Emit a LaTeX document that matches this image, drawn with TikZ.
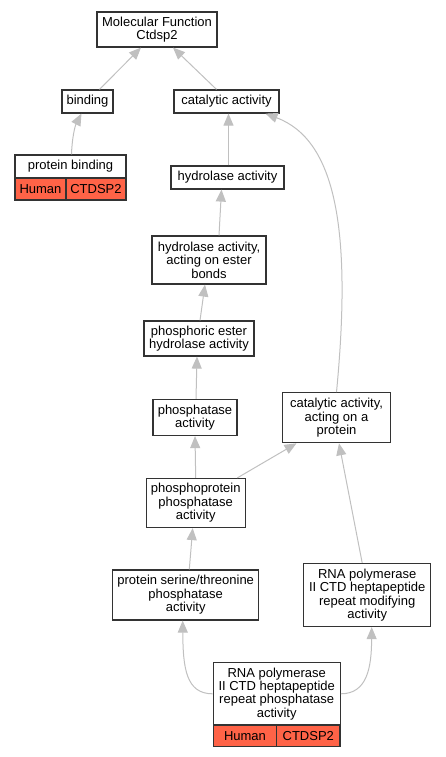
\documentclass[tikz,border=0pt]{standalone}
\usepackage{fontspec}
\setmainfont{Liberation Sans}
\usetikzlibrary{arrows.meta}
\definecolor{tomato}{RGB}{255,99,71}
\definecolor{edgegray}{RGB}{192,192,192}
\definecolor{boxline}{RGB}{51,51,51}

\begin{document}
\begin{tikzpicture}[x=1pt, y=-1pt, font=\fontsize{13}{13.4}\selectfont,
        term/.style={draw=boxline, line width=1.2pt, fill=white, align=center, inner sep=0pt},
        gene/.style={term, fill=tomato},
        isa/.style={draw=edgegray, line width=1pt, -{Triangle[length=12pt, width=10pt]}}]
        \useasboundingbox (0,0) rectangle (445,757);

        % Top of the tree
        \node[term, minimum width=120, minimum height=35] (mf) at (157, 29.5) {Molecular Function\\Ctdsp2};
        \node[term, minimum width=51, minimum height=23] (binding) at (87.5, 101.5) {binding};
        \node[term, minimum width=105, minimum height=23] (cat) at (226.5, 101.5) {catalytic activity};

        % Protein binding with its gene row
        \node[term, minimum width=111, minimum height=23] (pb) at (70.5, 166.5) {protein binding};
        \node[gene, minimum width=51, minimum height=22] (pbhuman) at (40.5, 189) {Human};
        \node[gene, minimum width=60, minimum height=22] (pbgene) at (96, 189) {CTDSP2};

        % Hydrolase branch
        \node[term, minimum width=113, minimum height=23] (hydro) at (227.5, 177.5) {hydrolase activity};
        \node[term, minimum width=114, minimum height=48] (ester) at (209, 260) {hydrolase activity,\\acting on ester\\bonds};
        \node[term, minimum width=110, minimum height=35] (phosester) at (199, 338.5) {phosphoric ester\\hydrolase activity};
        \node[term, minimum width=84, minimum height=36] (phosphatase) at (195, 417.5) {phosphatase\\activity};
        \node[term, minimum width=108, minimum height=50] (catprot) at (336.5, 417.7) {catalytic activity,\\acting on a\\protein};
        \node[term, minimum width=99, minimum height=49] (ppp) at (195.7, 503) {phosphoprotein\\phosphatase\\activity};
        \node[term, minimum width=146, minimum height=50] (serthr) at (185.7, 595) {protein serine/threonine\\phosphatase\\activity};
        \node[term, minimum width=127, minimum height=63] (rnamod) at (367.2, 595) {RNA polymerase\\II CTD heptapeptide\\repeat modifying\\activity};

        % Annotated term at the bottom
        \node[term, minimum width=127, minimum height=62] (rnaphos) at (276.7, 693.8) {RNA polymerase\\II CTD heptapeptide\\repeat phosphatase\\activity};
        \node[gene, minimum width=63.4, minimum height=21.7] (rnahuman) at (245, 735.8) {Human};
        \node[gene, minimum width=63.4, minimum height=21.7] (rnagene) at (308.3, 735.8) {CTDSP2};

        % is_a edges
        \draw[isa] ([xshift=12]binding.north) -- ([xshift=-16]mf.south);
        \draw[isa] ([xshift=-10]cat.north) -- ([xshift=16]mf.south);
        \draw[isa] ([xshift=1]pb.north) .. controls (72,138) and (75,126) .. ([xshift=-6]binding.south);
        \draw[isa] ([xshift=1]hydro.north) -- ([xshift=2]cat.south);
        \draw[isa] (catprot.north) .. controls (352,230) and (336,140) .. ([xshift=39]cat.south);
        \draw[isa] ([xshift=10]ester.north) -- ([xshift=-6]hydro.south);
        \draw[isa] ([xshift=1]phosester.north) -- ([xshift=-4]ester.south);
        \draw[isa] ([xshift=1]phosphatase.north) -- ([xshift=-2]phosester.south);
        \draw[isa] (ppp.north) -- (phosphatase.south);
        \draw[isa] ([xshift=41.6]ppp.north) -- ([xshift=-40]catprot.south);
        \draw[isa] ([xshift=3.6]serthr.north) -- ([xshift=-3]ppp.south);
        \draw[isa] ([xshift=-5]rnamod.north) -- ([xshift=2.5]catprot.south);
        \draw[isa] (rnaphos.west) .. controls (186,693.8) and (183,668) .. ([xshift=-3]serthr.south);
        \draw[isa] (rnaphos.east) .. controls (367,693.8) and (371.5,668) .. ([xshift=4.5]rnamod.south);
    \end{tikzpicture}
\end{document}
